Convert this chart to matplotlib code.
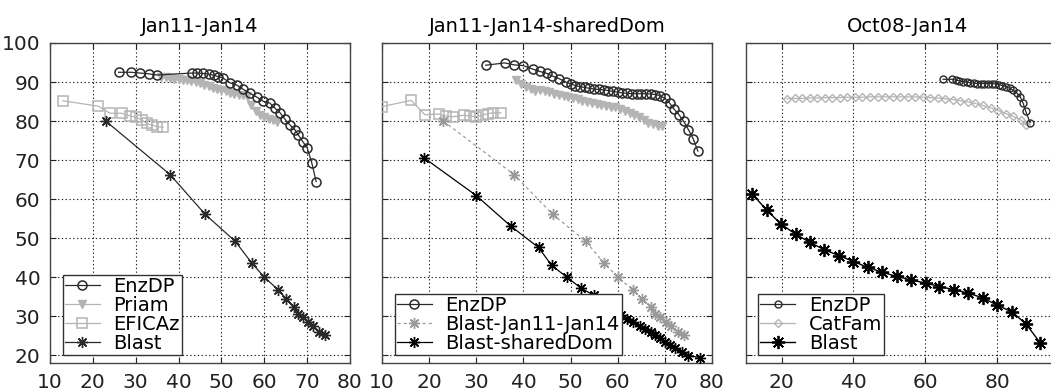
import numpy as np
import matplotlib
matplotlib.use("Agg")
import matplotlib.pyplot as plt

plt.rcParams['font.family'] = ['DejaVu Sans']
plt.rcParams['font.size'] = 13.5

# ---- Jan11-Jan14 ----
enz1_x = [26, 29, 31, 33, 35, 43.1, 44.4, 45.7, 47.1, 48.3, 49.2, 50.4, 52, 53.6, 55, 56.7,
          58.3, 59.7, 61.3, 62.5, 63.7, 64.8, 66, 67.2, 67.9, 69, 70, 71.1, 72.1]
enz1_y = [92.5, 92.5, 92.3, 92.1, 91.8, 92.3, 92.3, 92.2, 92.0, 91.7, 91.4, 91.0, 89.8, 89.2,
          88.2, 87.1, 86.1, 85.1, 84.6, 83.3, 82.1, 80.5, 79.0, 77.7, 76.5, 74.7, 73.2, 69.2, 64.5]

priam1_x = [36, 37, 38, 39, 40, 41, 42, 43, 44, 45, 46, 47, 48, 49, 50, 51, 52, 53, 54, 55,
            56, 57, 58, 59, 60, 61, 62, 63]
priam1_y = [91.3, 91.2, 91.0, 90.9, 90.8, 90.6, 90.4, 90.2, 90.0, 89.7, 89.3, 88.9, 88.5, 88.2,
            87.9, 87.6, 87.3, 87.0, 86.8, 86.6, 86.3, 84.0, 82.6, 81.6, 81.0, 80.6, 80.2, 79.8]

efic1_x = [13, 21.3, 24, 26.7, 28.7, 30, 31.4, 32.6, 33.7, 34.9, 36.4]
efic1_y = [85.2, 83.8, 82, 82, 81.3, 81, 80.3, 79.4, 79, 78.6, 78.4]

blast1_x = [23, 38, 46.2, 53.2, 57.1, 60, 63.2, 65.1, 67, 67.9, 69, 70.2, 71.4, 72.8, 74.1]
blast1_y = [80, 66.3, 56.1, 49.2, 43.6, 40, 36.8, 34.5, 32.3, 30.6, 29.9, 28.6, 27.4, 26, 25.1]

# ---- Jan11-Jan14-sharedDom ----
enz2_x = [32, 36, 38, 40, 42, 43.5, 45, 46, 47.5, 49, 50, 51, 52, 53, 54, 55, 56, 57, 58, 59,
          60, 61, 62, 63, 64, 65, 66, 67, 68, 69, 70, 71, 72, 73, 74, 75, 76, 77]
enz2_y = [94.3, 94.9, 94.4, 94.2, 93.3, 92.7, 92.2, 91.6, 90.9, 90.0, 89.5, 89.1, 88.8, 88.6,
          88.4, 88.2, 88.1, 88.0, 87.8, 87.6, 87.4, 87.2, 87.1, 87.0, 87.0, 87.0, 87.0, 86.9,
          86.8, 86.5, 85.8, 84.6, 83.0, 81.6, 79.9, 77.8, 75.5, 72.3]

priam2_x = [38.5, 39.5, 40.5, 41.5, 42.5, 43.5, 44.5, 45.5, 46.5, 47.5, 48.5, 49.5, 50.5, 51.5,
            52.5, 53.5, 54.5, 55.5, 56.5, 57.5, 58.5, 59.5, 60.5, 61.5, 62.5, 63.5, 64.5, 65.5,
            66.5, 67.5, 68.5, 69.3]
priam2_y = [90.6, 89.6, 88.8, 88.2, 87.8, 87.9, 87.7, 87.4, 87.0, 86.7, 86.4, 86.2, 85.9, 85.6,
            85.2, 84.8, 84.5, 84.3, 84.0, 83.8, 83.7, 83.6, 83.2, 82.7, 82.1, 81.5, 81.0, 80.3,
            79.6, 79.2, 78.7, 78.8]

efic2_x = [10, 16.2, 19.1, 22, 23.5, 25, 27.3, 28.7, 30, 31.5, 32.5, 33.6, 35.2]
efic2_y = [83.7, 85.3, 81.6, 81.8, 81.3, 81.1, 81.5, 81.3, 81.1, 81.6, 81.9, 82.1, 82.1]

shared_x = [19, 30, 37.3, 43.2, 46, 49.2, 52.2, 55, 57, 59, 60.8, 62, 63.3, 64.7, 65.8, 67,
            68, 69, 70, 71, 72.2, 73.6, 75, 77.5]
shared_y = [70.5, 60.9, 53.1, 47.6, 43, 40, 37.2, 35.3, 33.6, 31.7, 30.3, 29.4, 28.4, 27.5,
            26.8, 26, 25.1, 24.3, 23.5, 22.6, 21.8, 20.9, 19.9, 19.4]

# ---- Oct08-Jan14 ----
enz3_x = [65, 67.5, 68.5, 69.5, 70.5, 71.5, 72.5, 73.5, 74.5, 75.5, 76.5, 77.5, 78.5, 79.5,
          80.5, 81.5, 82.5, 83.5, 84.5, 85.5, 86.5, 87.3, 88.0, 89.2]
enz3_y = [90.7, 90.7, 90.5, 90.3, 90.1, 90.0, 89.8, 89.7, 89.6, 89.6, 89.6, 89.6, 89.6, 89.5,
          89.3, 89.1, 88.8, 88.4, 87.9, 87.2, 86.2, 84.5, 82.5, 79.6]

catfam_x = [21.5, 23.6, 25.7, 27.8, 29.9, 32.0, 34.1, 36.2, 38.3, 40.4, 42.5, 44.6, 46.7, 48.8,
            50.9, 53.0, 55.1, 57.2, 59.3, 61.4, 63.5, 65.6, 67.7, 69.8, 71.9, 74.0, 76.1, 78.2,
            80.3, 82.4, 84.5, 86.6, 88.0]
catfam_y = [85.7, 85.8, 85.8, 85.9, 85.9, 86.0, 86.0, 86.0, 86.1, 86.1, 86.1, 86.2, 86.2, 86.2,
            86.2, 86.2, 86.2, 86.2, 86.1, 86.0, 85.9, 85.7, 85.5, 85.2, 84.9, 84.5, 84.0, 83.4,
            82.7, 81.9, 81.2, 80.3, 79.0]

blast3_x = [11.8, 15.8, 19.8, 23.9, 27.9, 31.9, 36, 40, 44, 47.9, 52, 55.9, 60.1, 63.9, 68,
            72, 76, 79.9, 84.1, 88, 92]
blast3_y = [61.3, 57.2, 53.6, 51, 48.9, 47, 45.5, 44, 42.5, 41.3, 40.2, 39.3, 38.5, 37.6, 36.8,
            35.9, 34.7, 32.9, 31.1, 28.1, 23.2]

titles = ['Jan11-Jan14', 'Jan11-Jan14-sharedDom', 'Oct08-Jan14']

star = (8, 2, 0)
dark = '#2a2a2a'
gray = '#9a9a9a'
light = '#b4b4b4'

W, H = 1051.0, 391.0
fig = plt.figure(figsize=(W / 100, H / 100), dpi=100)
ax1 = fig.add_axes([50 / W, 28 / H, 300 / W, 320 / H])
ax2 = fig.add_axes([382 / W, 28 / H, 330 / W, 320 / H])
ax3 = fig.add_axes([745.8 / W, 28 / H, 323 / W, 320 / H])

# panel 1
ax1.plot(enz1_x, enz1_y, '-o', color=dark, mfc='none', ms=6.5, mew=1.1, lw=0.9, label='EnzDP', zorder=4)
ax1.plot(priam1_x, priam1_y, '-v', color=light, mfc=light, ms=6, lw=0.9, label='Priam', zorder=3)
ax1.plot(efic1_x, efic1_y, '-s', color=light, mfc='none', ms=6.5, mew=1.1, lw=0.9, label='EFICAz', zorder=3)
ax1.plot(blast1_x, blast1_y, '-', marker=star, color=dark, ms=8, mew=1.0, lw=0.9, label='Blast', zorder=4)

# panel 2
ax2.plot(enz2_x, enz2_y, '-o', color=dark, mfc='none', ms=6.5, mew=1.1, lw=0.9, label='EnzDP', zorder=4)
ax2.plot(priam2_x, priam2_y, '-v', color=light, mfc=light, ms=6, lw=0.9, zorder=3)
ax2.plot(efic2_x, efic2_y, '-s', color=light, mfc='none', ms=6.5, mew=1.1, lw=0.9, zorder=3)
ax2.plot(blast1_x, blast1_y, '--', marker=star, color=gray, ms=8, mew=1.0, lw=0.9,
         dashes=(2.5, 2.5), label='Blast-Jan11-Jan14', zorder=3)
ax2.plot(shared_x, shared_y, '-', marker=star, color='black', ms=8, mew=1.0, lw=0.9,
         label='Blast-sharedDom', zorder=4)

# panel 3
ax3.plot(enz3_x, enz3_y, '-o', color=dark, mfc='none', ms=5, mew=1.0, lw=0.9, label='EnzDP', zorder=4)
ax3.plot(catfam_x, catfam_y, '-D', color=light, mfc='none', ms=4.5, mew=1.0, lw=0.9, label='CatFam', zorder=3)
ax3.plot(blast3_x, blast3_y, '-', marker=star, color='black', ms=9.5, mew=1.3, lw=1.0, label='Blast', zorder=4)

for ax, t in zip([ax1, ax2, ax3], titles):
    ax.set_title(t, fontsize=14, pad=8)
    ax.set_ylim(18, 100)
    ax.set_yticks([20, 30, 40, 50, 60, 70, 80, 90, 100])
    ax.grid(True, color='#222222', linestyle=(0, (1.2, 2.2)), lw=0.8)
    ax.tick_params(direction='in', length=4, width=0.8, top=True, right=True,
                   labelsize=14.5, pad=7, colors='#222222')
    for s in ax.spines.values():
        s.set_color('#444444')
        s.set_linewidth(1.0)

ax1.set_xlim(10, 80)
ax1.set_xticks([10, 20, 30, 40, 50, 60, 70, 80])
ax2.set_xlim(10, 80)
ax2.set_xticks([10, 20, 30, 40, 50, 60, 70, 80])
ax2.tick_params(labelleft=False)
ax3.set_xlim(10, 100)
ax3.set_xticks([20, 40, 60, 80])
ax3.tick_params(labelleft=False)

leg_kw = dict(loc='lower left', fontsize=14, frameon=True, fancybox=False,
              edgecolor='#333333', framealpha=1, borderpad=0.1, labelspacing=0.0,
              handlelength=1.8, handletextpad=0.7, borderaxespad=0)
for ax, x0 in [(ax1, 0.043), (ax2, 0.039), (ax3, 0.038)]:
    lg = ax.legend(bbox_to_anchor=(x0, 0.025), **leg_kw)
    lg.get_frame().set_linewidth(1.0)

fig.savefig('out.png', dpi=100)
